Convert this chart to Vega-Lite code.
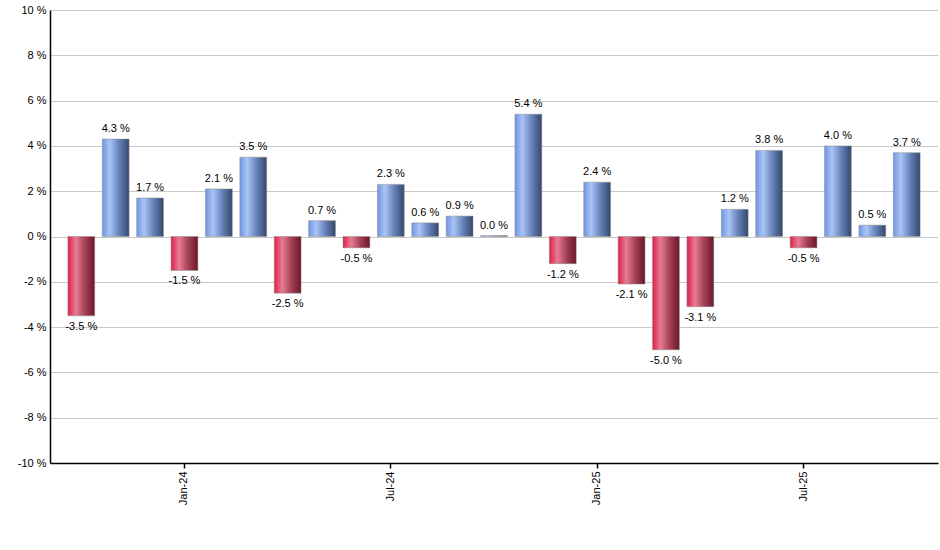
{
  "$schema": "https://vega.github.io/schema/vega-lite/v6.json",
  "width": 888,
  "height": 453,
  "autosize": {"type": "none"},
  "padding": {"left": 50, "top": 10, "right": 2, "bottom": 87},
  "background": "white",
  "config": {
    "view": {"stroke": null},
    "font": "Liberation Sans",
    "axis": {"labelFont": "Liberation Sans", "labelFontSize": 11, "labelColor": "#000000"}
  },
  "data": {
    "values": [
      {"month": "Oct-23", "v": -3.5},
      {"month": "Nov-23", "v": 4.3},
      {"month": "Dec-23", "v": 1.7},
      {"month": "Jan-24", "v": -1.5},
      {"month": "Feb-24", "v": 2.1},
      {"month": "Mar-24", "v": 3.5},
      {"month": "Apr-24", "v": -2.5},
      {"month": "May-24", "v": 0.7},
      {"month": "Jun-24", "v": -0.5},
      {"month": "Jul-24", "v": 2.3},
      {"month": "Aug-24", "v": 0.6},
      {"month": "Sep-24", "v": 0.9},
      {"month": "Oct-24", "v": 0.04},
      {"month": "Nov-24", "v": 5.4},
      {"month": "Dec-24", "v": -1.2},
      {"month": "Jan-25", "v": 2.4},
      {"month": "Feb-25", "v": -2.1},
      {"month": "Mar-25", "v": -5.0},
      {"month": "Apr-25", "v": -3.1},
      {"month": "May-25", "v": 1.2},
      {"month": "Jun-25", "v": 3.8},
      {"month": "Jul-25", "v": -0.5},
      {"month": "Aug-25", "v": 4.0},
      {"month": "Sep-25", "v": 0.5},
      {"month": "Oct-25", "v": 3.7}
    ]
  },
  "transform": [
    {"calculate": "replace(format(datum.v, '.1f'), '\u2212', '-') + ' %'", "as": "lbl"}
  ],
  "encoding": {
    "x": {
      "field": "month",
      "type": "ordinal",
      "sort": ["Oct-23","Nov-23","Dec-23","Jan-24","Feb-24","Mar-24","Apr-24","May-24","Jun-24","Jul-24","Aug-24","Sep-24","Oct-24","Nov-24","Dec-24","Jan-25","Feb-25","Mar-25","Apr-25","May-25","Jun-25","Jul-25","Aug-25","Sep-25","Oct-25"],
      "scale": {"paddingInner": 0.22, "paddingOuter": 0.52},
      "axis": {
        "title": null,
        "values": ["Jan-24", "Jul-24", "Jan-25", "Jul-25"],
        "labelAngle": -90,
        "domainColor": "#000000",
        "domainWidth": 1.5,
        "tickColor": "#000000",
        "tickSize": 5,
        "tickWidth": 1.5,
        "grid": false,
        "labelPadding": 3
      }
    },
    "y": {
      "field": "v",
      "type": "quantitative",
      "scale": {"domain": [-10, 10], "nice": false},
      "axis": {
        "title": null,
        "values": [-10, -8, -6, -4, -2, 0, 2, 4, 6, 8, 10],
        "labelExpr": "datum.value + ' %'",
        "domainColor": "#000000",
        "domainWidth": 1.5,
        "ticks": false,
        "labelPadding": 4,
        "gridColor": "#c8c8c8",
        "gridWidth": 1
      }
    }
  },
  "layer": [
    {
      "transform": [{"filter": "datum.v >= 0"}],
      "mark": {
        "type": "bar",
        "stroke": "#8a8a8a",
        "strokeWidth": 0.5,
        "fill": {
          "gradient": "linear", "x1": 0, "x2": 1, "y1": 0, "y2": 0,
          "stops": [
            {"offset": 0, "color": "#6f95e2"},
            {"offset": 0.28, "color": "#a9c4f6"},
            {"offset": 0.6, "color": "#6a86bd"},
            {"offset": 1, "color": "#34476d"}
          ]
        }
      },
      "encoding": {"y2": {"datum": 0}}
    },
    {
      "transform": [{"filter": "datum.v < 0"}],
      "mark": {
        "type": "bar",
        "stroke": "#8a8a8a",
        "strokeWidth": 0.5,
        "fill": {
          "gradient": "linear", "x1": 0, "x2": 1, "y1": 0, "y2": 0,
          "stops": [
            {"offset": 0, "color": "#df1f4a"},
            {"offset": 0.3, "color": "#e77c93"},
            {"offset": 0.62, "color": "#a84358"},
            {"offset": 1, "color": "#6a1729"}
          ]
        }
      },
      "encoding": {"y2": {"datum": 0}}
    },
    {
      "transform": [{"filter": "datum.v >= 0"}],
      "mark": {"type": "text", "baseline": "bottom", "dy": -5, "fontSize": 11, "color": "#000000"},
      "encoding": {"text": {"field": "lbl", "type": "nominal"}}
    },
    {
      "transform": [{"filter": "datum.v < 0"}],
      "mark": {"type": "text", "baseline": "top", "dy": 5, "fontSize": 11, "color": "#000000"},
      "encoding": {"text": {"field": "lbl", "type": "nominal"}}
    }
  ]
}
